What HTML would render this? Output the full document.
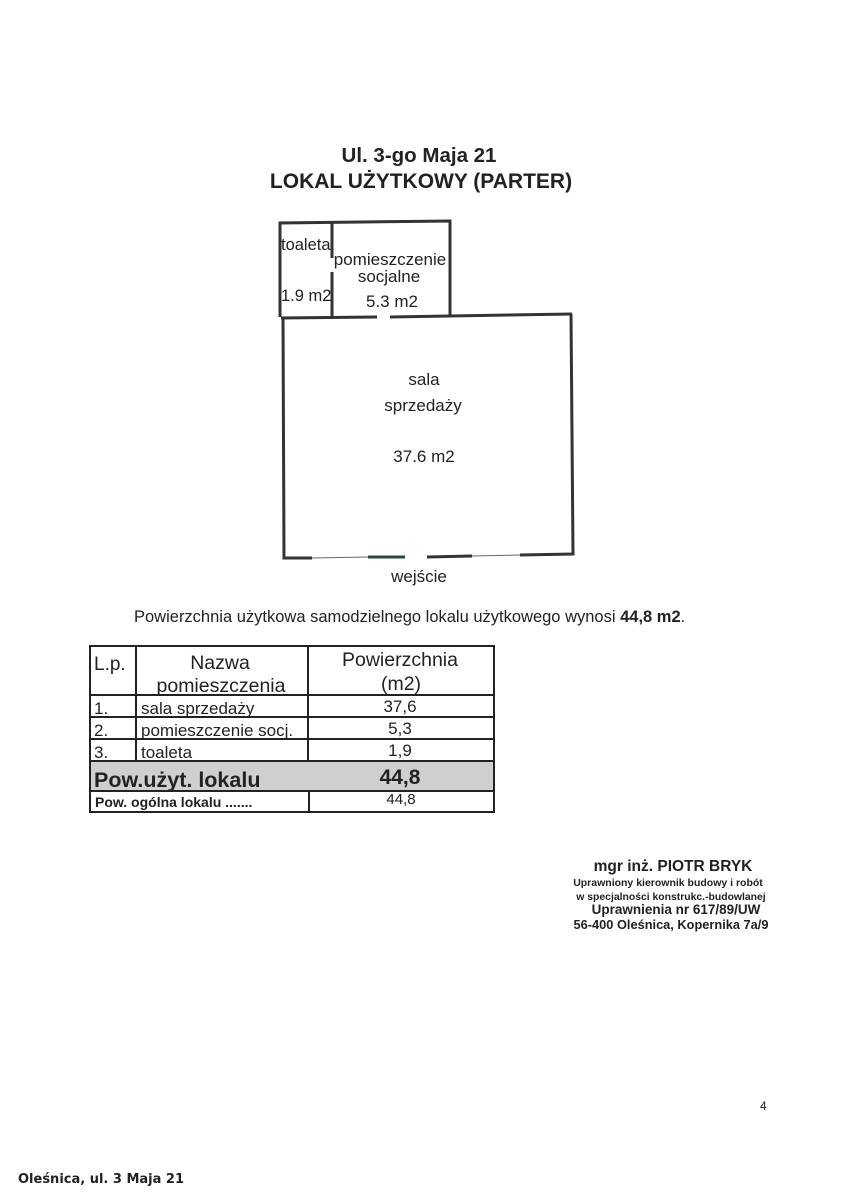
<!DOCTYPE html>
<html><head><meta charset="utf-8"><style>
body{margin:0;background:#fff;}
svg{display:block;}
text{font-family:"Liberation Sans",sans-serif;fill:#222;}
</style></head><body>
<svg width="850" height="1202" viewBox="0 0 850 1202">
<text x="419" y="162" font-size="20.5" font-weight="bold" text-anchor="middle">Ul. 3-go Maja 21</text>
<text x="421" y="188" font-size="21" font-weight="bold" text-anchor="middle">LOKAL UŻYTKOWY (PARTER)</text>
<g stroke="#333" stroke-width="3" fill="none">
<polyline points="280,317 280,223 450,221 450,316"/>
<line x1="332" y1="223" x2="332" y2="258"/>
<line x1="332" y1="272" x2="332" y2="318"/>
<line x1="281" y1="318" x2="377" y2="317"/>
<line x1="390" y1="317" x2="572" y2="314"/>
<polyline points="283,318 284,558 312,558"/>
<polyline points="571,314 573,554 520,555"/>
<line x1="427" y1="557" x2="472" y2="556"/>
<line x1="368" y1="557" x2="405" y2="557" stroke="#2a4a3a"/>
</g>
<g stroke="#666" stroke-width="1">
<line x1="312" y1="558" x2="368" y2="557"/>
<line x1="472" y1="556" x2="520" y2="555"/>
</g>
<text x="281" y="250" font-size="16.5">toaleta</text>
<text x="281" y="301" font-size="16.5">1.9 m2</text>
<text x="390" y="265" font-size="17" text-anchor="middle">pomieszczenie</text>
<text x="389" y="282" font-size="17" text-anchor="middle">socjalne</text>
<text x="392" y="307" font-size="17" text-anchor="middle">5.3 m2</text>
<text x="424" y="385" font-size="17" text-anchor="middle">sala</text>
<text x="423" y="411" font-size="17" text-anchor="middle">sprzedaży</text>
<text x="424" y="462" font-size="17" text-anchor="middle">37.6 m2</text>
<text x="419" y="582" font-size="17" text-anchor="middle">wejście</text>
<text x="134" y="622" font-size="16.5">Powierzchnia użytkowa samodzielnego lokalu użytkowego wynosi <tspan font-weight="bold">44,8 m2</tspan>.</text>
<rect x="91" y="762" width="403" height="29" fill="#cfcfcf"/>
<g stroke="#222" stroke-width="2" fill="none">
<rect x="90" y="646" width="404" height="166"/>
<line x1="90" y1="695" x2="494" y2="695"/>
<line x1="90" y1="717" x2="494" y2="717"/>
<line x1="90" y1="739" x2="494" y2="739"/>
<line x1="90" y1="761" x2="494" y2="761"/>
<line x1="90" y1="791" x2="494" y2="791"/>
<line x1="136" y1="646" x2="136" y2="761"/>
<line x1="308" y1="646" x2="308" y2="761"/>
<line x1="309" y1="791" x2="309" y2="812"/>
</g>
<text x="94" y="670" font-size="19">L.p.</text>
<text x="220" y="669" font-size="19.5" text-anchor="middle">Nazwa</text>
<text x="221" y="692" font-size="19.5" text-anchor="middle">pomieszczenia</text>
<text x="400" y="666" font-size="19.5" text-anchor="middle">Powierzchnia</text>
<text x="401" y="690" font-size="19.5" text-anchor="middle">(m2)</text>
<text x="94" y="714" font-size="17">1.</text>
<text x="141" y="714" font-size="17">sala sprzedaży</text>
<text x="400" y="712" font-size="17" text-anchor="middle">37,6</text>
<text x="94" y="736" font-size="17">2.</text>
<text x="141" y="736" font-size="17">pomieszczenie socj.</text>
<text x="400" y="734" font-size="17" text-anchor="middle">5,3</text>
<text x="94" y="758" font-size="17">3.</text>
<text x="141" y="758" font-size="17">toaleta</text>
<text x="400" y="756" font-size="17" text-anchor="middle">1,9</text>
<text x="94" y="787" font-size="21.5" font-weight="bold">Pow.użyt. lokalu</text>
<text x="400" y="784" font-size="21" font-weight="bold" text-anchor="middle">44,8</text>
<text x="95" y="807" font-size="14" font-weight="bold">Pow. ogólna lokalu .......</text>
<text x="401" y="804" font-size="15" text-anchor="middle">44,8</text>
<g font-family="'DejaVu Sans',sans-serif" fill="#222">
<text x="673" y="871" font-size="15.5" text-anchor="middle" font-weight="bold">mgr inż. PIOTR BRYK</text>
<text x="668" y="886" font-size="10.5" text-anchor="middle" font-weight="bold">Uprawniony kierownik budowy i robót</text>
<text x="671" y="900" font-size="10.4" text-anchor="middle" font-weight="bold">w specjalności konstrukc.-budowlanej</text>
<text x="676" y="914" font-size="13.5" text-anchor="middle" font-weight="bold">Uprawnienia nr 617/89/UW</text>
<text x="671" y="929" font-size="12.8" text-anchor="middle" font-weight="bold">56-400 Oleśnica, Kopernika 7a/9</text>
</g>
<text x="760" y="1110" font-size="12">4</text>
<text x="18" y="1183" font-size="13" font-weight="bold" style="font-family:'DejaVu Sans',sans-serif">Oleśnica, ul. 3 Maja 21</text>
</svg>
</body></html>
